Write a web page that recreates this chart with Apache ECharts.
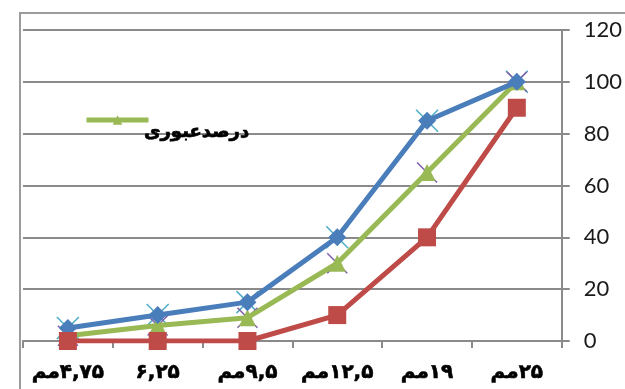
<!DOCTYPE html>
<html>
<head>
<meta charset="utf-8">
<script src="https://cdn.jsdelivr.net/npm/echarts@6/dist/echarts.min.js"></script>
<style>
  html, body { margin: 0; padding: 0; background: #fff; }
  #chart { width: 625px; height: 389px; }
</style>
</head>
<body>
<div id="chart"></div>
<script>
// Sieve sizes: number part, then the unit
const categories = ['۴,۷۵مم', '۶,۲۵', '۹,۵مم', '۱۲,۵مم', '۱۹مم', '۲۵مم'];
const upperValues = [5, 10, 15, 40, 85, 100];
const lowerValues = [0, 0, 0, 10, 40, 90];
const passingValues = [2, 6, 9, 30, 65, 100];
const passingName = 'درصدعبوری';
const yTicks = [0, 20, 40, 60, 80, 100, 120];

const crossPath = 'path://M0,0L10,10M10,0L0,10';
const arabicFont = '"DejaVu Sans", sans-serif';
const labelStyle = {
  fontFamily: arabicFont, fontWeight: 'bold', fontSize: 20, color: '#000',
  textBorderColor: '#000', textBorderWidth: 0.6
};

// Lay the unit out on the left of the number, each as its own run
function sizeLabel(value) {
  const m = value.match(/^([۰-۹,]+)(.*)$/);
  if (!m || !m[2]) return '{n|' + value + '}';
  return '{u|' + m[2] + '}{n|' + m[1] + '}';
}

const chart = echarts.init(document.getElementById('chart'), null, { renderer: 'canvas' });

chart.setOption({
  animation: false,
  backgroundColor: '#ffffff',
  graphic: [{
    type: 'rect',
    z: -10,
    shape: { x: 20, y: 13, width: 700, height: 500 },
    style: { fill: 'none', stroke: '#9c9c9c', lineWidth: 2 }
  }],
  grid: { left: 23, right: 63, top: 30, bottom: 48, containLabel: false },
  legend: [
    {
      // key line with its marker
      data: [passingName],
      left: 79,
      top: 109,
      itemWidth: 62,
      itemHeight: 12,
      lineStyle: { width: 5 },
      formatter: () => '',
      textStyle: { fontSize: 1 }
    },
    {
      // key text, set a little lower than the line
      data: [passingName],
      icon: 'none',
      left: 134,
      top: 118,
      itemWidth: 0,
      itemHeight: 0,
      itemGap: 0,
      textStyle: {
        fontFamily: arabicFont, fontWeight: 'bold', fontSize: 18, color: '#000',
        textBorderColor: '#000', textBorderWidth: 0.7
      }
    }
  ],
  xAxis: {
    type: 'category',
    data: categories,
    boundaryGap: true,
    axisLine: { lineStyle: { color: '#8a8a8a', width: 2 } },
    axisTick: { show: true, length: 7, lineStyle: { color: '#8a8a8a', width: 2 } },
    axisLabel: {
      interval: 0,
      hideOverlap: false,
      margin: 22,
      formatter: sizeLabel,
      rich: { u: labelStyle, n: labelStyle }
    },
    splitLine: { show: false }
  },
  yAxis: {
    type: 'value',
    position: 'right',
    min: yTicks[0],
    max: yTicks[yTicks.length - 1],
    interval: yTicks[1] - yTicks[0],
    axisLine: { show: true, lineStyle: { color: '#8a8a8a', width: 2 } },
    axisTick: { show: true, length: 8, lineStyle: { color: '#8a8a8a', width: 2 } },
    axisLabel: { margin: 22, fontFamily: 'Lato, "Open Sans", sans-serif', fontSize: 22, color: '#1a1a1a' },
    splitLine: { show: true, lineStyle: { color: '#8a8a8a', width: 2 } }
  },
  series: [
    {
      name: 'upperStar',
      type: 'line',
      data: upperValues,
      z: 1,
      lineStyle: { width: 0, opacity: 0 },
      symbol: crossPath,
      symbolSize: 22,
      itemStyle: { color: 'none', borderColor: '#4BACC6', borderWidth: 1.5 }
    },
    {
      name: 'passingCross',
      type: 'line',
      data: passingValues,
      z: 1,
      lineStyle: { width: 0, opacity: 0 },
      symbol: crossPath,
      symbolSize: 20,
      itemStyle: { color: 'none', borderColor: '#7F5FA8', borderWidth: 1.5 }
    },
    {
      name: passingName,
      type: 'line',
      data: passingValues,
      z: 2,
      symbol: 'triangle',
      symbolSize: 17,
      lineStyle: { color: '#98B954', width: 5 },
      itemStyle: { color: '#98B954', borderWidth: 0 }
    },
    {
      name: 'upper',
      type: 'line',
      data: upperValues,
      z: 3,
      symbol: 'diamond',
      symbolSize: 18,
      lineStyle: { color: '#4A7EBB', width: 5 },
      itemStyle: { color: '#4A7EBB', borderWidth: 0 }
    },
    {
      name: 'lower',
      type: 'line',
      data: lowerValues,
      z: 4,
      symbol: 'rect',
      symbolSize: 18,
      lineStyle: { color: '#BE4B48', width: 5 },
      itemStyle: { color: '#BE4B48', borderWidth: 0 }
    }
  ]
});
</script>
</body>
</html>
